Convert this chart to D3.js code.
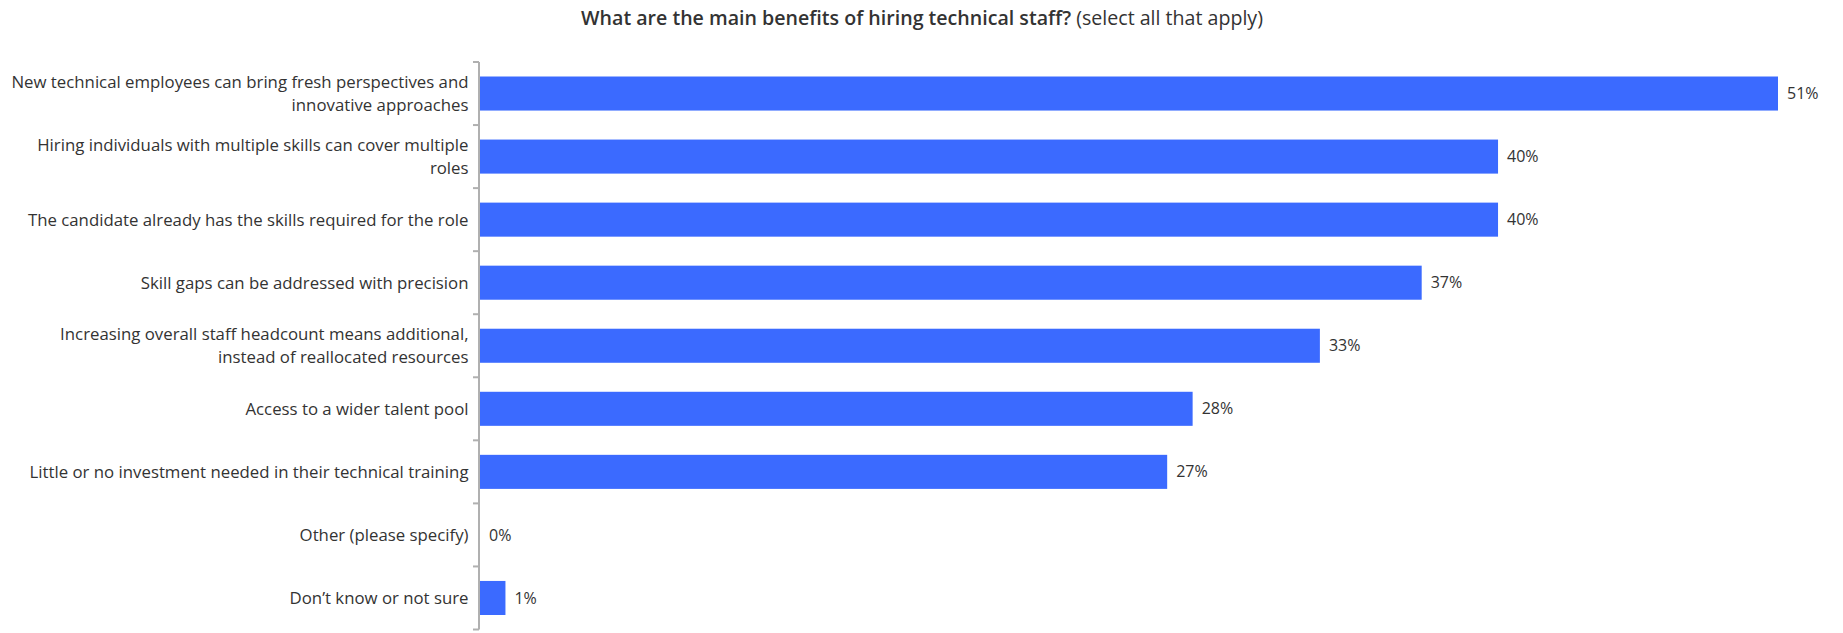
<!DOCTYPE html>
<html><head><meta charset="utf-8">
<script src="https://cdn.jsdelivr.net/npm/d3@7"></script>
<style>body{margin:0;background:#fff;font-family:"Open Sans",sans-serif;}</style>
</head><body><svg id="c" width="1843" height="633"></svg>
<script>
const categories = [
  "New technical employees can bring fresh perspectives and\ninnovative approaches",
  "Hiring individuals with multiple skills can cover multiple\nroles",
  "The candidate already has the skills required for the role",
  "Skill gaps can be addressed with precision",
  "Increasing overall staff headcount means additional,\ninstead of reallocated resources",
  "Access to a wider talent pool",
  "Little or no investment needed in their technical training",
  "Other (please specify)",
  "Don\u2019t know or not sure"
];
const values = [51, 40, 40, 37, 33, 28, 27, 0, 1];
const titleBold = "What are the main benefits of hiring technical staff?";
const titleRest = " (select all that apply)";

const svg = d3.select("#c");
const axisX = 479;
const x = d3.scaleLinear().domain([0, 51]).range([axisX + 1, 1778]);
const y = d3.scaleBand().domain(categories).range([62, 629.5]).paddingInner(0.46).paddingOuter(0.23);
const color = "#3b6aff", textColor = "#333";

const t = svg.append("text").attr("x", 922).attr("y", 25).attr("text-anchor", "middle")
  .attr("font-size", 19.6).attr("fill", textColor);
t.append("tspan").attr("font-weight", 600).text(titleBold);
t.append("tspan").attr("font-weight", 400).text(titleRest);

svg.append("line").attr("x1", axisX).attr("x2", axisX).attr("y1", 62).attr("y2", 629.5)
  .attr("stroke", "#b0b0b0").attr("stroke-width", 2);
const step = y.step();
const edges = d3.range(categories.length + 1).map(i => y.range()[0] + i * step);
svg.selectAll("line.tick").data(edges).join("line").attr("class", "tick")
  .attr("x1", axisX - 6).attr("x2", axisX).attr("y1", d => d).attr("y2", d => d)
  .attr("stroke", "#b0b0b0").attr("stroke-width", 2);

svg.selectAll("rect.bar").data(values).join("rect").attr("class", "bar")
  .attr("x", x(0)).attr("y", (d, i) => y(categories[i]))
  .attr("width", d => x(d) - x(0)).attr("height", y.bandwidth()).attr("fill", color);

svg.selectAll("text.val").data(values).join("text").attr("class", "val")
  .attr("x", d => x(d) + 9).attr("y", (d, i) => y(categories[i]) + y.bandwidth() / 2)
  .attr("dy", "0.35em").attr("font-size", 16).attr("fill", textColor).text(d => d + "%");

const lh = 23;
const lab = svg.selectAll("text.lab").data(categories).join("text").attr("class", "lab")
  .attr("text-anchor", "end").attr("font-size", 16.8).attr("fill", textColor);
lab.each(function(d) {
  const lines = d.split("\n");
  const cy = y(d) + y.bandwidth() / 2;
  const sel = d3.select(this);
  lines.forEach((ln, k) => {
    sel.append("tspan").attr("x", 468.5)
      .attr("y", cy + (k - (lines.length - 1) / 2) * lh)
      .attr("dy", "0.35em").text(ln);
  });
});
</script></body></html>
